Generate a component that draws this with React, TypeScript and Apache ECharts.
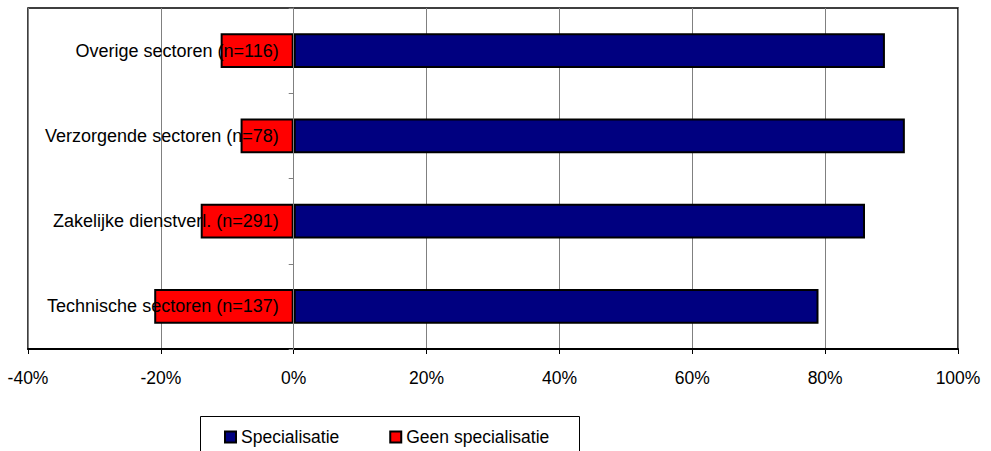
import React, { useEffect, useRef } from "react";
import * as echarts from "echarts";

// Sectors, top to bottom
const categories = [
  "Overige sectoren (n=116)",
  "Verzorgende sectoren (n=78)",
  "Zakelijke dienstverl. (n=291)",
  "Technische sectoren (n=137)",
];
// Share (%) with specialisation
const specialisatie = [89, 92, 86, 79];
// Share (%) without specialisation, plotted to the left of zero
const geenSpecialisatie = [-11, -8, -14, -21];

const seriesNames = ["Specialisatie", "Geen specialisatie"];
const FONT = "'Liberation Sans', Arial, sans-serif";

const GRID_LEFT = 28;
const GRID_RIGHT = 33;
const WIDTH = 991;
const X_MIN = -40;
const X_MAX = 100;
// Horizontal distance from the grid's left edge to the zero line
const zeroOffset =
  ((0 - X_MIN) / (X_MAX - X_MIN)) * (WIDTH - GRID_LEFT - GRID_RIGHT);

export default function App() {
  const ref = useRef<HTMLDivElement>(null);

  useEffect(() => {
    document.body.style.margin = "0";
    const chart = echarts.init(ref.current!, null, { renderer: "svg" });
    chart.setOption({
      animation: false,
      backgroundColor: "#ffffff",
      textStyle: { fontFamily: FONT },
      grid: {
        left: GRID_LEFT,
        right: GRID_RIGHT,
        top: 8,
        bottom: 102,
        containLabel: false,
        outerBoundsMode: "none",
        show: true,
        borderColor: "#000",
        borderWidth: 1.5,
      },
      xAxis: {
        type: "value",
        min: X_MIN,
        max: X_MAX,
        interval: 20,
        axisLine: { show: true, onZero: false, lineStyle: { color: "#000", width: 2 } },
        axisTick: { show: true, length: 5, lineStyle: { color: "#000" } },
        splitLine: { show: true, lineStyle: { color: "#808080", width: 1 } },
        axisLabel: {
          margin: 20,
          color: "#000",
          fontSize: 17.5,
          fontFamily: FONT,
          formatter: (v: number) => `${v}%`,
        },
      },
      yAxis: {
        type: "category",
        inverse: true,
        data: categories,
        z: 10,
        offset: -zeroOffset,
        axisLine: { show: true, onZero: false, lineStyle: { color: "#808080", width: 1 } },
        axisTick: { show: true, length: 5, lineStyle: { color: "#808080" } },
        splitLine: { show: false },
        axisLabel: { margin: 15, color: "#000", fontSize: 18, fontFamily: FONT },
      },
      legend: {
        left: 224,
        top: 428,
        padding: 0,
        itemWidth: 11,
        itemHeight: 11,
        itemGap: 50,
        icon: "rect",
        textStyle: { fontSize: 17.5, color: "#000", fontFamily: FONT },
        data: seriesNames,
      },
      graphic: [
        {
          type: "rect",
          left: 198,
          top: 414,
          shape: { width: 379, height: 60 },
          style: { fill: "none", stroke: "#000", lineWidth: 1 },
          silent: true,
        },
      ],
      series: [
        {
          name: seriesNames[0],
          type: "bar",
          stack: "total",
          data: specialisatie,
          barCategoryGap: "59%",
          itemStyle: { color: "#000080", borderColor: "#000", borderWidth: 2 },
        },
        {
          name: seriesNames[1],
          type: "bar",
          stack: "total",
          data: geenSpecialisatie,
          barCategoryGap: "59%",
          itemStyle: { color: "#ff0000", borderColor: "#000", borderWidth: 2 },
        },
      ],
    });
    return () => chart.dispose();
  }, []);

  return (
    <div
      ref={ref}
      style={{ position: "absolute", left: 0, top: 0, width: WIDTH, height: 451 }}
    />
  );
}
